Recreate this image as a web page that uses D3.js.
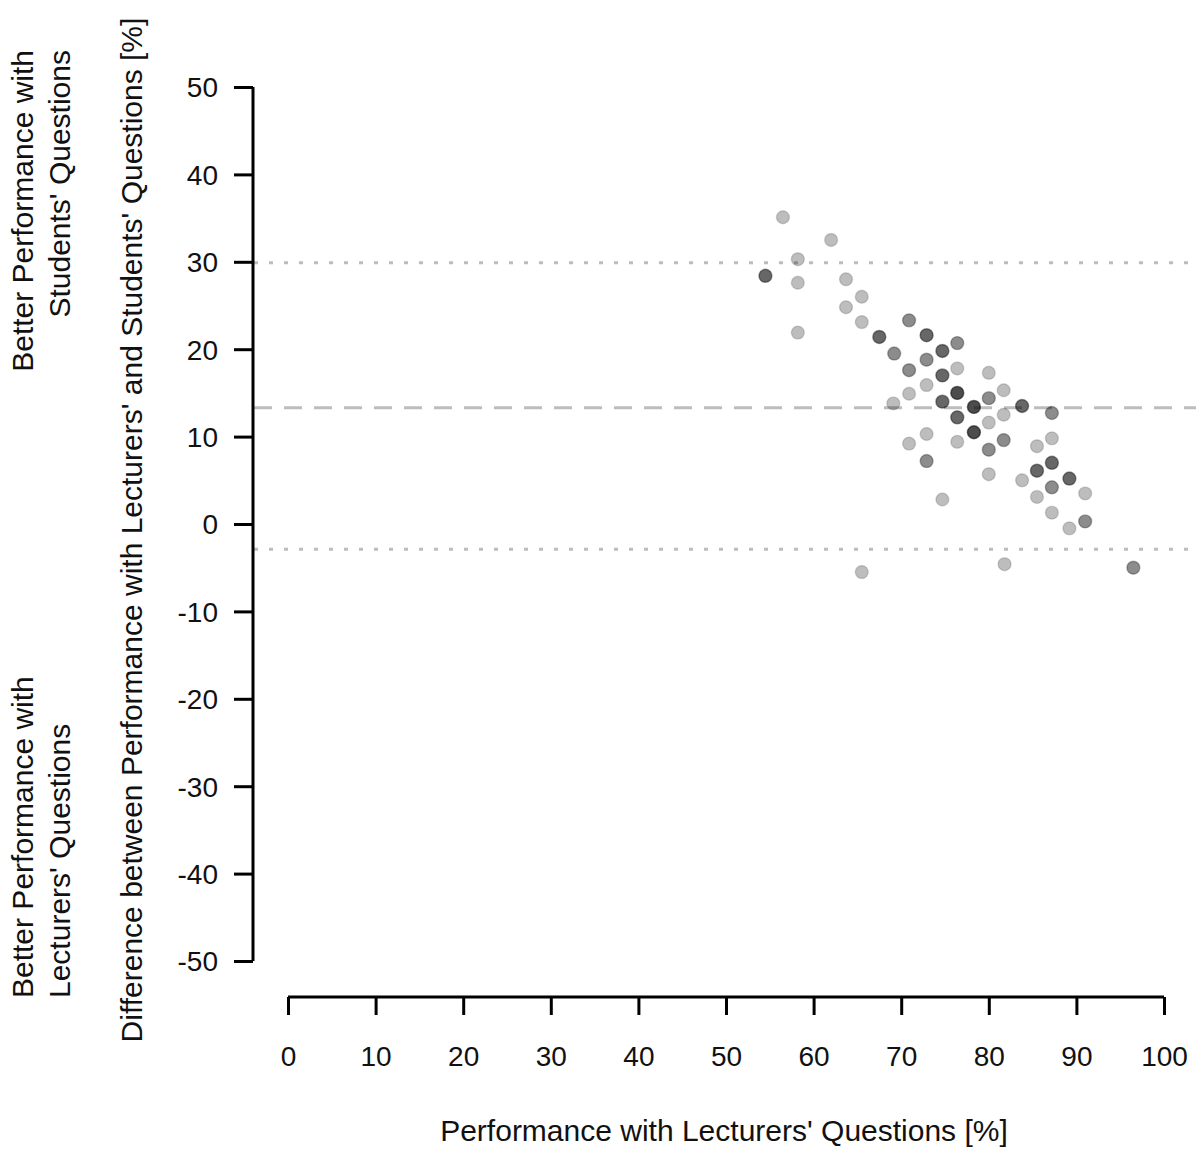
<!DOCTYPE html>
<html>
<head>
<meta charset="utf-8">
<script src="https://cdn.jsdelivr.net/npm/d3@7"></script>
<style>
  html, body { margin: 0; padding: 0; background: #fff; }
  svg text { font-family: "Liberation Sans", Arial, sans-serif; fill: #111; }
</style>
</head>
<body>
<svg id="chart" width="1200" height="1150"></svg>
<script>
// Performance with lecturers' questions [%]
const lecturerPerf = [56.5,62.0,58.2,54.5,58.2,63.7,65.5,63.7,65.5,58.2,
  70.9,67.5,69.2,70.9,72.9,74.7,76.4,72.9,74.7,76.4,
  70.9,72.9,76.4,69.1,74.7,78.3,80.0,81.7,80.0,83.8,
  76.4,81.7,80.0,78.3,72.9,70.9,76.4,81.7,80.0,72.9,
  80.0,87.2,87.2,85.5,87.2,85.5,83.8,87.2,85.5,74.7,
  89.2,91.0,87.2,91.0,89.2,81.8,96.5,65.5];
// Difference (students' - lecturers') [%]
const diffPerf = [35.1,32.5,30.3,28.4,27.6,28.0,26.0,24.8,23.1,21.9,
  23.3,21.4,19.5,17.6,21.6,19.8,20.7,18.8,17.0,17.8,
  14.9,15.9,15.0,13.8,14.0,13.4,17.3,15.3,14.4,13.5,
  12.2,12.5,11.6,10.5,10.3,9.2,9.4,9.6,8.5,7.2,
  5.7,12.7,9.8,8.9,7.0,6.1,5.0,4.2,3.1,2.8,
  5.2,3.5,1.3,0.3,-0.5,-4.6,-5.0,-5.5];
// number of overlapping observations at each location
const nObs = [1,1,1,3,1,1,1,1,1,1,
  2,3,2,2,3,3,2,2,3,1,
  1,1,4,1,3,4,1,1,2,3,
  3,1,1,4,1,1,1,2,2,2,
  1,2,1,1,3,3,1,2,1,1,
  3,1,1,2,1,1,2,1];
// Reference lines: upper limit, mean difference, lower limit
const refLines = [
  {name: "upper", value: 29.9},
  {name: "mean", value: 13.3},
  {name: "lower", value: -2.9}
];
const xTicks = [0,10,20,30,40,50,60,70,80,90,100];
const yTicks = [50,40,30,20,10,0,-10,-20,-30,-40,-50];

const svg = d3.select("#chart");
const x = d3.scaleLinear().domain([0, 100]).range([288, 1164]);
const y = d3.scaleLinear().domain([-50, 50]).range([961, 87]);
const FONT = "'Liberation Sans', Arial, sans-serif";

// reference lines
svg.append("g").selectAll("line").data(refLines).join("line")
  .attr("x1", 254).attr("x2", 1196)
  .attr("y1", d => y(d.value)).attr("y2", d => y(d.value))
  .attr("stroke", "#bdbdbd")
  .attr("stroke-width", 3)
  .attr("stroke-dasharray", d => d.name === "mean" ? "18,12" : "4,11");

// points (expanded by number of overlapping observations)
const pts = [];
lecturerPerf.forEach((v, i) => { for (let k = 0; k < nObs[i]; k++) pts.push([v, diffPerf[i]]); });
svg.append("g").selectAll("circle").data(pts).join("circle")
  .attr("cx", d => x(d[0])).attr("cy", d => y(d[1]))
  .attr("r", 6.5)
  .attr("fill", "rgba(0,0,0,0.26)")
  .attr("stroke", "rgba(0,0,0,0.14)")
  .attr("stroke-width", 1.4);

// y axis
const yAxis = d3.axisLeft(y).tickValues(yTicks).tickSize(19).tickPadding(16).tickFormat(d => String(d));
const gy = svg.append("g").attr("transform", "translate(253,0)").call(yAxis);
gy.select(".domain").attr("stroke", "#000").attr("stroke-width", 3).attr("d", `M0,${y(50)}V${y(-50)}`);
gy.selectAll(".tick line").attr("stroke", "#000").attr("stroke-width", 3);
gy.selectAll(".tick text").attr("font-size", 28).attr("dy", "0.35em").style("font-family", FONT).attr("fill", "#111");

// x axis
const xAxis = d3.axisBottom(x).tickValues(xTicks).tickSize(18).tickPadding(31).tickFormat(d => String(d));
const gx = svg.append("g").attr("transform", "translate(0,997)").call(xAxis);
gx.select(".domain").attr("stroke", "#000").attr("stroke-width", 3).attr("d", `M${x(0)},0H${x(100)}`);
gx.selectAll(".tick line").attr("stroke", "#000").attr("stroke-width", 3);
gx.selectAll(".tick text").attr("font-size", 28).attr("dy", "0.71em").style("font-family", FONT).attr("fill", "#111");

// axis titles
svg.append("text")
  .attr("x", 724).attr("y", 1141)
  .attr("text-anchor", "middle").attr("font-size", 30)
  .text("Performance with Lecturers' Questions [%]");

svg.append("text")
  .attr("transform", "translate(142,530) rotate(-90)")
  .attr("text-anchor", "middle").attr("font-size", 30)
  .text("Difference between Performance with Lecturers' and Students' Questions [%]");

// side annotations
const topLines = ["Better Performance with", "Students' Questions"];
const botLines = ["Better Performance with", "Lecturers' Questions"];
const lineX = [33, 70];
topLines.forEach((t, i) => {
  svg.append("text")
    .attr("transform", `translate(${lineX[i]},50) rotate(-90)`)
    .attr("text-anchor", "end").attr("font-size", 30).text(t);
});
botLines.forEach((t, i) => {
  svg.append("text")
    .attr("transform", `translate(${lineX[i]},998) rotate(-90)`)
    .attr("text-anchor", "start").attr("font-size", 30).text(t);
});
</script>
</body>
</html>
